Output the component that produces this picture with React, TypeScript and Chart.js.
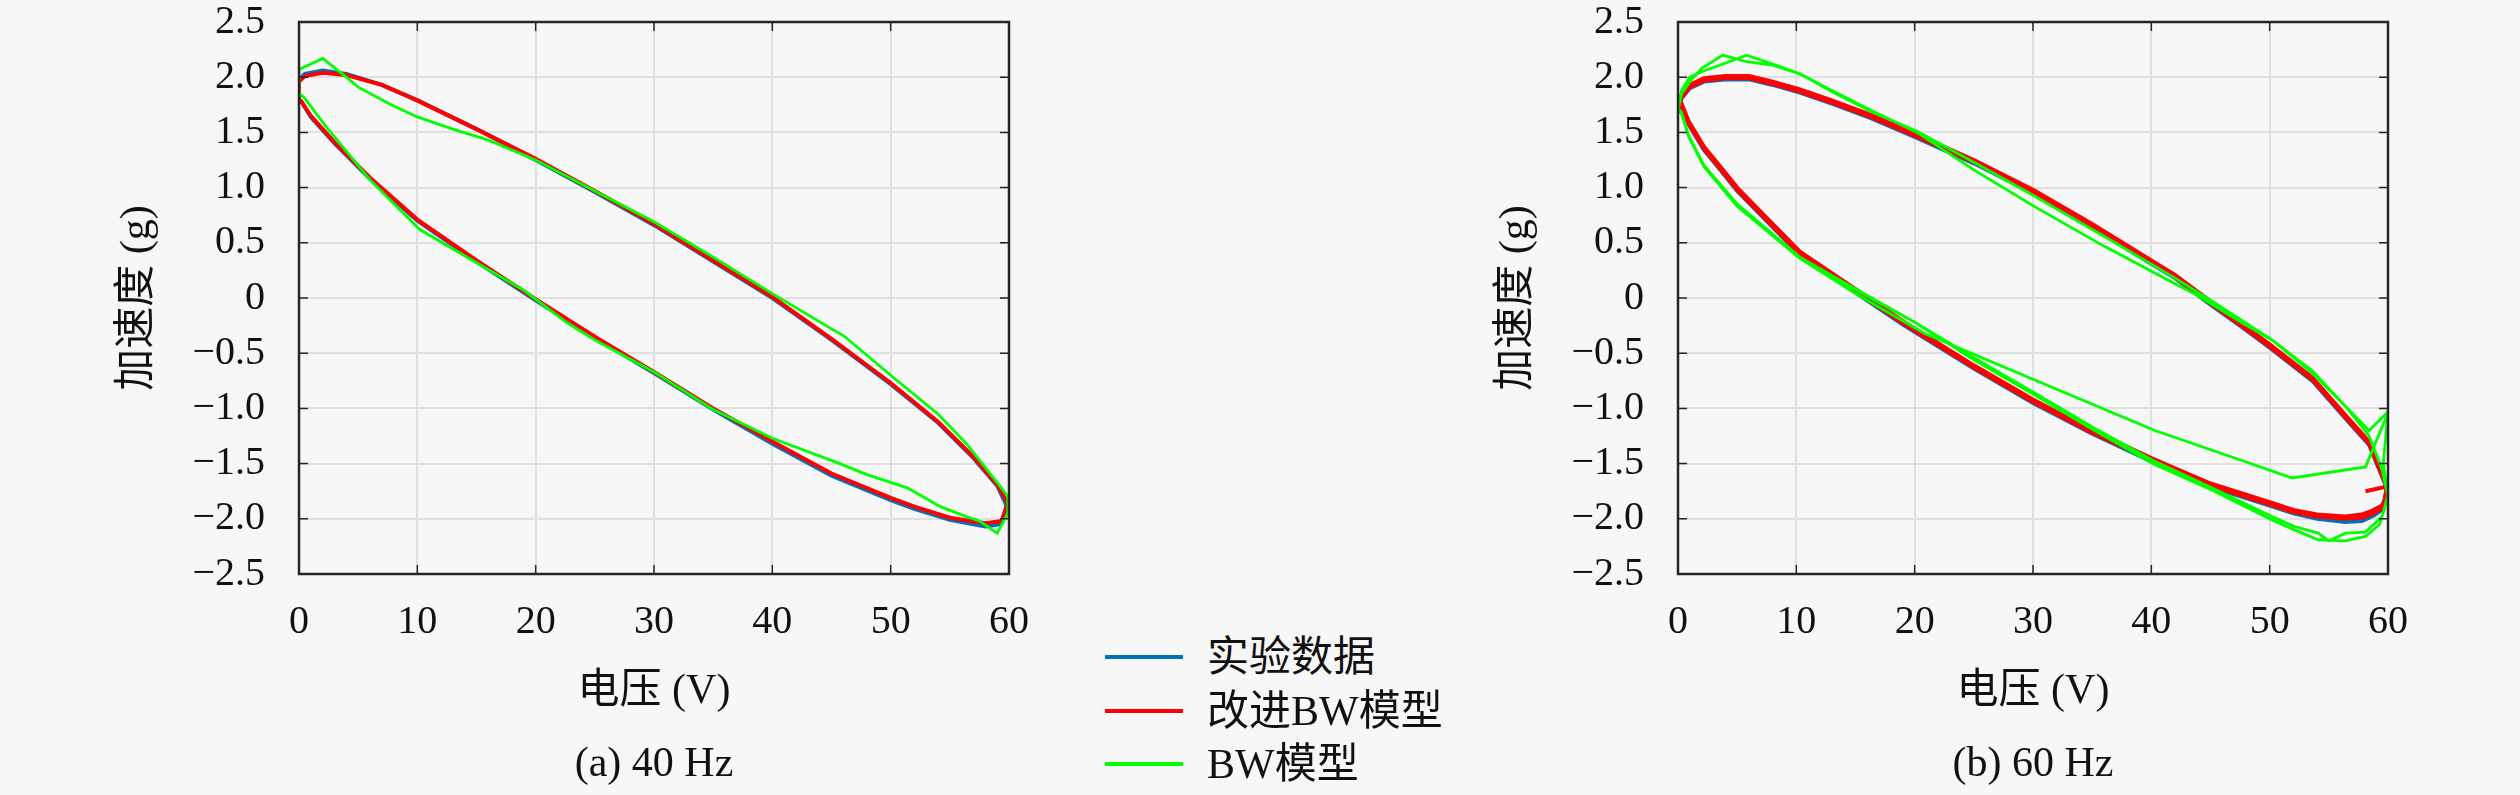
import { useEffect, useRef } from 'react'
import { Chart, registerables } from 'chart.js'

Chart.register(...registerables)

// (a) 40 Hz — voltage (V) / acceleration (g), one loop per series
const exp40V = [0, 0.5, 2, 4, 7, 10, 15, 20, 25, 30, 35, 40, 45, 50, 54, 57, 59, 59.8, 59.3, 58, 55, 52, 50, 45, 40, 35, 30, 25, 20, 15, 10, 6, 3, 1, 0.2, 0, 0]
const exp40A = [1.98, 2.03, 2.06, 2.03, 1.93, 1.79, 1.53, 1.25, 0.96, 0.66, 0.33, 0.0, -0.38, -0.78, -1.13, -1.45, -1.70, -1.88, -2.05, -2.07, -2.01, -1.91, -1.83, -1.61, -1.32, -1.01, -0.68, -0.36, -0.02, 0.33, 0.70, 1.08, 1.40, 1.64, 1.78, 1.80, 1.98]
const imp40V = [0, 0.5, 2, 4, 7, 10, 15, 20, 25, 30, 35, 40, 45, 50, 54, 57, 59, 59.9, 59.4, 58, 55, 52, 50, 45, 40, 35, 30, 25, 20, 15, 10, 6, 3, 1, 0.2, 0, 0]
const imp40A = [1.96, 2.01, 2.04, 2.02, 1.93, 1.79, 1.53, 1.26, 0.97, 0.67, 0.34, 0.01, -0.37, -0.77, -1.12, -1.44, -1.69, -1.86, -2.02, -2.04, -1.99, -1.89, -1.81, -1.59, -1.30, -1.0, -0.67, -0.35, -0.01, 0.34, 0.71, 1.09, 1.41, 1.65, 1.78, 1.80, 1.96]
const bw40V = [0, 2, 4, 5, 8, 10, 13, 16, 20, 25, 30, 35, 40, 45, 46, 50, 54, 56.4, 58.4, 59.5, 59.9, 59.9, 59, 57.5, 56.4, 54.2, 51.4, 48, 45.7, 40, 35, 30, 25, 22.6, 19, 15, 10.2, 6, 2.3, 0.4, 0, 0]
const bw40A = [2.07, 2.17, 2.0, 1.91, 1.74, 1.64, 1.53, 1.43, 1.25, 0.97, 0.69, 0.37, 0.04, -0.28, -0.34, -0.70, -1.05, -1.32, -1.59, -1.74, -1.80, -1.95, -2.13, -2.02, -1.98, -1.89, -1.72, -1.60, -1.50, -1.27, -1.01, -0.67, -0.38, -0.22, 0.07, 0.32, 0.62, 1.07, 1.55, 1.82, 1.85, 2.07]

// (b) 60 Hz — two cycles per series
const exp60V = [60,
  59.5, 58.6, 57.8, 56.4, 54, 52, 50, 45, 40, 35, 30, 25, 19, 15, 10.3, 7, 5, 3.5, 2.2, 0.9, 0.3, 0,
  0.3, 1, 2.2, 4, 6, 8, 10.3, 13, 16.3, 20, 25, 30, 35, 40, 42, 45, 47.6, 50, 53.6, 56.4, 58.4, 59.2, 59.9,
  59.6, 58.8, 57.8, 56.4, 54, 52, 50, 45, 40, 35, 30, 25, 19, 15, 10.3, 7, 5, 3.5, 2.2, 0.9, 0.3, 0,
  0.3, 1, 2.2, 4, 6, 8, 10.3, 13, 16.3, 20, 25, 30, 35, 40, 42, 45, 47.6, 50, 53.6, 56.4, 58.4, 59.2, 59.9]
const exp60A = [-1.76,
  -1.88, -1.95, -1.99, -2.01, -1.99, -1.94, -1.87, -1.70, -1.47, -1.22, -0.93, -0.62, -0.22, 0.07, 0.41, 0.77, 0.99, 1.19, 1.36, 1.59, 1.75, 1.71,
  1.81, 1.90, 1.96, 1.98, 1.98, 1.93, 1.86, 1.76, 1.63, 1.46, 1.22, 0.95, 0.64, 0.31, 0.18, -0.06, -0.26, -0.45, -0.75, -1.09, -1.33, -1.54, -1.72,
  -1.91, -1.97, -2.02, -2.03, -2.0, -1.95, -1.88, -1.71, -1.48, -1.23, -0.95, -0.64, -0.24, 0.05, 0.39, 0.75, 0.97, 1.17, 1.34, 1.57, 1.73, 1.71,
  1.83, 1.92, 1.98, 2.00, 2.00, 1.95, 1.88, 1.78, 1.65, 1.48, 1.24, 0.97, 0.66, 0.33, 0.20, -0.04, -0.24, -0.43, -0.73, -1.07, -1.31, -1.52, -1.71]
const imp60V = [58.1, 59.8, 60,
  59.5, 58.6, 57.8, 56.4, 54, 52, 50, 45, 40, 35, 30, 25, 19, 15, 10.3, 7, 5, 3.5, 2.2, 0.9, 0.3, 0,
  0.3, 1, 2.2, 4, 6, 8, 10.3, 13, 16.3, 20, 25, 30, 35, 40, 42, 45, 47.6, 50, 53.6, 56.4, 58.4, 59.2, 59.9,
  59.6, 58.8, 57.8, 56.4, 54, 52, 50, 45, 40, 35, 30, 25, 19, 15, 10.3, 7, 5, 3.5, 2.2, 0.9, 0.3, 0,
  0.3, 1, 2.2, 4, 6, 8, 10.3, 13, 16.3, 20, 25, 30, 35, 40, 42, 45, 47.6, 50, 53.6, 56.4, 58.4, 59.2, 59.9, 60]
const imp60A = [-1.75, -1.71, -1.80,
  -1.88, -1.93, -1.96, -1.98, -1.96, -1.92, -1.85, -1.68, -1.45, -1.20, -0.92, -0.61, -0.21, 0.08, 0.42, 0.78, 1.00, 1.20, 1.37, 1.60, 1.76, 1.70,
  1.82, 1.91, 1.97, 1.99, 1.99, 1.94, 1.87, 1.77, 1.64, 1.47, 1.23, 0.96, 0.65, 0.32, 0.19, -0.05, -0.25, -0.44, -0.74, -1.08, -1.32, -1.53, -1.71,
  -1.90, -1.95, -1.99, -2.00, -1.98, -1.94, -1.87, -1.70, -1.47, -1.22, -0.94, -0.63, -0.23, 0.06, 0.40, 0.76, 0.98, 1.18, 1.35, 1.58, 1.74, 1.72,
  1.84, 1.93, 1.99, 2.01, 2.01, 1.96, 1.89, 1.79, 1.66, 1.49, 1.25, 0.98, 0.67, 0.34, 0.21, -0.03, -0.23, -0.42, -0.72, -1.06, -1.30, -1.52, -1.70, -1.78]
const bw60V = [60, 58.1, 51.9, 47.6, 40.3, 30.1, 20.8, 15, 10.3, 5, 2.2, 0.9, 0.3, 0,
  0.3, 1, 2, 3.8, 5.8, 8, 10.3, 13, 16.3, 20.2, 25, 30.1, 36, 42, 43.8, 47.6, 50.2, 53.6, 56.4, 58.4, 59.5, 60,
  59.3, 58.1, 56.4, 54.1, 52.1, 50.2, 45.1, 40.1, 35.2, 30, 25, 20, 13.7, 10.3, 5, 2.2, 0.9, 0.3, 0,
  0.3, 1, 2, 3.8, 5.8, 8, 10.3, 13, 16.3, 20.2, 25, 30, 36, 42, 45, 50.2, 53.6, 56.4, 58.4, 60, 59.6, 60,
  59.5, 58.1, 56.4, 55, 54.1, 52.1, 50.2, 45.1, 40.1, 35.2, 30, 25, 20, 13.7, 10.3, 5, 2.2, 0.9, 0.3, 0]
const bw60A = [-1.04, -1.53, -1.63, -1.47, -1.20, -0.74, -0.32, 0.04, 0.36, 0.83, 1.19, 1.46, 1.67, 1.70,
  1.85, 1.96, 2.08, 2.20, 2.14, 2.11, 2.03, 1.88, 1.70, 1.50, 1.16, 0.83, 0.47, 0.13, 0.03, -0.22, -0.38, -0.66, -0.98, -1.25, -1.55, -1.80,
  -2.05, -2.16, -2.20, -2.19, -2.10, -2.01, -1.74, -1.50, -1.20, -0.87, -0.56, -0.22, 0.15, 0.36, 0.83, 1.19, 1.46, 1.67, 1.72,
  1.88, 2.00, 2.05, 2.12, 2.20, 2.12, 2.03, 1.87, 1.69, 1.51, 1.23, 0.93, 0.56, 0.18, -0.02, -0.38, -0.68, -0.98, -1.20, -1.03, -1.50, -1.78,
  -1.98, -2.12, -2.13, -2.20, -2.13, -2.07, -1.98, -1.72, -1.47, -1.18, -0.85, -0.54, -0.22, 0.16, 0.37, 0.85, 1.20, 1.47, 1.68, 1.72]

const legendLabels = ['实验数据', '改进BW模型', 'BW模型']
const BLUE = '#0072BD'
const RED = '#FF0000'
const GREEN = '#00FF00'
const colors = [BLUE, RED, GREEN]
const FONT = "'Liberation Serif', 'Noto Sans CJK SC', serif"
const INK = '#111111'

type Series = { v: number[]; a: number[]; color: string; width: number; order: number }

const pts = (v: number[], a: number[]) => v.map((x, i) => ({ x, y: a[i] }))

// box round the plot area plus inward tick marks on all four sides
const frame = {
  id: 'frame',
  afterDatasetsDraw(chart: any) {
    const { ctx, chartArea, scales } = chart
    const { left, right, top, bottom } = chartArea
    const tl = 9
    ctx.save()
    ctx.strokeStyle = '#262626'
    ctx.lineWidth = 1.5
    ctx.beginPath()
    scales.x.ticks.forEach((t: any) => {
      const px = scales.x.getPixelForValue(t.value)
      ctx.moveTo(px, bottom); ctx.lineTo(px, bottom - tl)
      ctx.moveTo(px, top); ctx.lineTo(px, top + tl)
    })
    scales.y.ticks.forEach((t: any) => {
      const py = scales.y.getPixelForValue(t.value)
      ctx.moveTo(left, py); ctx.lineTo(left + tl, py)
      ctx.moveTo(right, py); ctx.lineTo(right - tl, py)
    })
    ctx.stroke()
    ctx.lineWidth = 2.5
    ctx.strokeRect(left, top, right - left, bottom - top)
    ctx.restore()
  },
}

function Panel({ left, caption, series }: { left: number; caption: string; series: Series[] }) {
  const ref = useRef<HTMLCanvasElement | null>(null)

  useEffect(() => {
    if (!ref.current) return
    const chart = new Chart(ref.current, {
      type: 'scatter',
      data: {
        datasets: series.map((s) => ({
          data: pts(s.v, s.a),
          borderColor: s.color,
          backgroundColor: s.color,
          borderWidth: s.width,
          showLine: true,
          pointRadius: 0,
          tension: 0,
          order: s.order,
        })),
      },
      options: {
        animation: false,
        responsive: false,
        layout: { padding: { left: 0, right: 91, top: 22, bottom: 0 } },
        plugins: {
          legend: { display: false },
          tooltip: { enabled: false },
          title: {
            display: true,
            text: caption,
            position: 'bottom',
            fullSize: false,
            color: INK,
            font: { family: FONT, size: 42, weight: 'normal', lineHeight: 1.2 },
            padding: { top: 0, bottom: 5 },
          },
        },
        scales: {
          x: {
            type: 'linear',
            min: 0,
            max: 60,
            ticks: { stepSize: 10, color: INK, font: { family: FONT, size: 40, lineHeight: 1 }, padding: 0, maxRotation: 0 },
            // invisible tick marks used only as the gap between axis and labels
            grid: { color: '#e0e0e0', lineWidth: 2, drawTicks: true, tickLength: 28, tickColor: 'rgba(0,0,0,0)' },
            border: { display: false },
            title: {
              display: true,
              text: '电压 (V)',
              color: INK,
              font: { family: FONT, size: 42, lineHeight: 1.2 },
              padding: { top: 0, bottom: 22.4 },
            },
            afterFit: (s: any) => { s.height = 165.6 },
          },
          y: {
            type: 'linear',
            min: -2.5,
            max: 2.5,
            ticks: {
              stepSize: 0.5,
              color: INK,
              font: { family: FONT, size: 40, lineHeight: 1 },
              padding: 0,
              callback: (v: any) => (Math.abs(v) < 1e-9 ? '0' : Number(v).toFixed(1).replace('-', '\u2212')),
            },
            grid: { color: '#e0e0e0', lineWidth: 2, drawTicks: true, tickLength: 34, tickColor: 'rgba(0,0,0,0)' },
            border: { display: false },
            title: {
              display: true,
              text: '加速度 (g)',
              color: INK,
              font: { family: FONT, size: 42, lineHeight: 1.2 },
              padding: { top: 112.8, bottom: 0 },
            },
            afterFit: (s: any) => { s.width = 299 },
          },
        },
      },
      plugins: [frame],
    } as any)
    return () => chart.destroy()
  }, [])

  return (
    <canvas
      ref={ref}
      width={1100}
      height={795}
      style={{ position: 'absolute', left, top: 0, width: 1100, height: 795 }}
    />
  )
}

const series40: Series[] = [
  { v: exp40V, a: exp40A, color: BLUE, width: 4, order: 3 },
  { v: imp40V, a: imp40A, color: RED, width: 4, order: 2 },
  { v: bw40V, a: bw40A, color: GREEN, width: 2.8, order: 1 },
]
const series60: Series[] = [
  { v: exp60V, a: exp60A, color: BLUE, width: 4, order: 3 },
  { v: imp60V, a: imp60A, color: RED, width: 4, order: 2 },
  { v: bw60V, a: bw60A, color: GREEN, width: 2.8, order: 1 },
]

export default function App() {
  useEffect(() => {
    document.body.style.margin = '0'
  }, [])

  const rowY = [657, 711, 764]

  return (
    <div style={{ position: 'absolute', left: 0, top: 0, width: 2520, height: 795, background: '#f7f7f7', overflow: 'hidden' }}>
      <Panel left={0} caption="(a) 40 Hz" series={series40} />
      <Panel left={1379} caption="(b) 60 Hz" series={series60} />
      {legendLabels.map((label, i) => (
        <div key={label}>
          <div style={{ position: 'absolute', left: 1105, top: rowY[i] - 2, width: 78, height: 4, background: colors[i] }} />
          <div
            style={{
              position: 'absolute',
              left: 1207,
              top: rowY[i] - 25,
              height: 50,
              lineHeight: '50px',
              fontFamily: FONT,
              fontSize: 42,
              color: INK,
              whiteSpace: 'nowrap',
            }}
          >
            {label}
          </div>
        </div>
      ))}
    </div>
  )
}
